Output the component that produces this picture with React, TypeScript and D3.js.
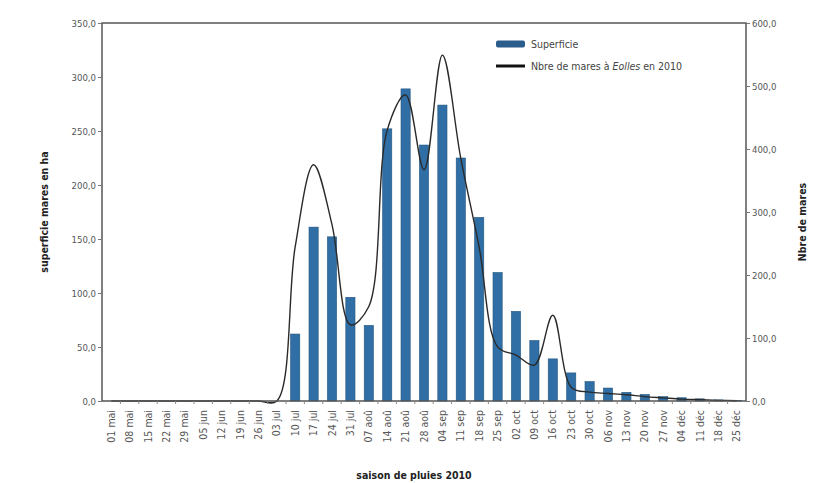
import React, { useRef, useEffect } from "react";
import * as d3 from "d3";

const dates = [
  "01 mai", "08 mai", "15 mai", "22 mai", "29 mai", "05 jun", "12 jun", "19 jun", "26 jun",
  "03 jul", "10 jul", "17 jul", "24 jul", "31 jul", "07 aoû", "14 aoû", "21 aoû", "28 aoû",
  "04 sep", "11 sep", "18 sep", "25 sep", "02 oct", "09 oct", "16 oct", "23 oct", "30 oct",
  "06 nov", "13 nov", "20 nov", "27 nov", "04 déc", "11 déc", "18 déc", "25 déc",
];

// superficie des mares (ha), axe gauche
const superficie = [
  0, 0, 0, 0, 0, 0, 0, 0, 0,
  0, 62, 161, 152, 96, 70, 252, 289, 237,
  274, 225, 170, 119, 83, 56, 39, 26, 18,
  12, 8, 6, 4, 3, 2, 1, 0.5,
];

// nombre de mares, axe droit
const nbMares = [
  0, 0, 0, 0, 0, 0, 0, 0, 0,
  0, 245, 375, 280, 121, 150, 430, 486, 367,
  549, 385, 244, 86, 73, 57, 136, 22, 14,
  12, 10, 7, 5, 3, 2, 1, 0.5,
];

const leftTicks = [0, 50, 100, 150, 200, 250, 300, 350];
const rightTicks = [0, 100, 200, 300, 400, 500, 600];

const fmt = (v: number) => v.toFixed(1).replace(".", ",");

const App = () => {
  const svgRef = useRef<SVGSVGElement>(null);

  useEffect(() => {
    const width = 821;
    const height = 483;
    const margin = { top: 23, right: 75, bottom: 82, left: 102 };
    const w = width - margin.left - margin.right;
    const h = height - margin.top - margin.bottom;

    const svg = d3.select(svgRef.current);
    svg.selectAll("*").remove();
    svg.attr("width", width).attr("height", height);

    const g = svg.append("g").attr("transform", `translate(${margin.left},${margin.top})`);
    const font = "'Liberation Sans Narrow', 'DejaVu Sans Condensed', Arial, sans-serif";

    const x = d3.scaleBand().domain(dates).range([0, w]).paddingInner(0.5).paddingOuter(0.25);
    const yL = d3.scaleLinear().domain([0, 350]).range([h, 0]);
    const yR = d3.scaleLinear().domain([0, 600]).range([h, 0]);

    // bars
    g.selectAll(".bar")
      .data(superficie.map((v, i) => ({ d: dates[i], v })).filter((p) => p.v > 0))
      .enter()
      .append("rect")
      .attr("x", (p) => x(p.d)!)
      .attr("y", (p) => yL(p.v))
      .attr("width", x.bandwidth())
      .attr("height", (p) => h - yL(p.v))
      .attr("fill", "#2f6fa6")
      .attr("stroke", "#24557f")
      .attr("stroke-width", 0.6);

    // line
    const line = d3
      .line<number>()
      .x((_, i) => x(dates[i])! + x.bandwidth() / 2)
      .y((v) => yR(v))
      .curve(d3.curveCatmullRom.alpha(0.5));
    g.append("path")
      .attr("d", line(nbMares))
      .attr("fill", "none")
      .attr("stroke", "#2a2a2a")
      .attr("stroke-width", 1.4);

    // frame
    g.append("rect")
      .attr("width", w)
      .attr("height", h)
      .attr("fill", "none")
      .attr("stroke", "#555")
      .attr("stroke-width", 1.5);

    // left axis
    const la = g.append("g").call(d3.axisLeft(yL).tickValues(leftTicks).tickFormat((v) => fmt(+v)).tickSize(4).tickPadding(2));
    la.select(".domain").remove();
    la.selectAll("text").attr("font-family", font).attr("font-size", 9.5).attr("fill", "#555");
    la.selectAll("line").attr("stroke", "#777");

    // right axis
    const ra = g.append("g").attr("transform", `translate(${w},0)`)
      .call(d3.axisRight(yR).tickValues(rightTicks).tickFormat((v) => fmt(+v)).tickSize(4).tickPadding(2));
    ra.select(".domain").remove();
    ra.selectAll("text").attr("font-family", font).attr("font-size", 9.5).attr("fill", "#555");
    ra.selectAll("line").attr("stroke", "#777");

    // bottom axis
    const ba = g.append("g").attr("transform", `translate(0,${h})`)
      .call(d3.axisBottom(x).tickSize(0).tickPadding(0));
    ba.select(".domain").remove();
    ba.selectAll("text")
      .attr("font-family", font)
      .attr("font-size", 10.5)
      .attr("fill", "#555")
      .attr("text-anchor", "end")
      .attr("dy", "0.35em")
      .attr("transform", "translate(0,9) rotate(-90)");
    g.append("g")
      .selectAll("line")
      .data(dates.slice(1))
      .enter()
      .append("line")
      .attr("x1", (d) => x(d)! - (x.step() - x.bandwidth()) / 2)
      .attr("x2", (d) => x(d)! - (x.step() - x.bandwidth()) / 2)
      .attr("y1", h)
      .attr("y2", h + 3)
      .attr("stroke", "#888");

    // axis titles
    svg.append("text")
      .attr("transform", `translate(48,${margin.top + h / 2}) rotate(-90)`)
      .attr("text-anchor", "middle")
      .attr("font-family", font)
      .attr("font-size", 10.5)
      .attr("font-weight", "bold")
      .attr("fill", "#222")
      .text("superficie mares en ha");
    svg.append("text")
      .attr("transform", `translate(806,${margin.top + h / 2 + 10}) rotate(-90)`)
      .attr("text-anchor", "middle")
      .attr("font-family", font)
      .attr("font-size", 10.5)
      .attr("font-weight", "bold")
      .attr("fill", "#222")
      .text("Nbre de mares");
    svg.append("text")
      .attr("x", 414)
      .attr("y", 479)
      .attr("text-anchor", "middle")
      .attr("font-family", font)
      .attr("font-size", 10.5)
      .attr("font-weight", "bold")
      .attr("fill", "#222")
      .text("saison de pluies 2010");

    // legend
    const lg = svg.append("g").attr("transform", "translate(496,44)");
    lg.append("rect").attr("x", 0).attr("y", -3.5).attr("width", 29).attr("height", 7).attr("rx", 2).attr("fill", "#2b5d8c");
    lg.append("text").attr("x", 35).attr("y", 0).attr("dy", "0.35em")
      .attr("font-family", font).attr("font-size", 10.5).attr("fill", "#444").text("Superficie");
    lg.append("line").attr("x1", 0).attr("x2", 29).attr("y1", 22).attr("y2", 22).attr("stroke", "#111").attr("stroke-width", 3);
    const t2 = lg.append("text").attr("x", 35).attr("y", 22).attr("dy", "0.35em")
      .attr("font-family", font).attr("font-size", 10.5).attr("fill", "#444");
    t2.append("tspan").text("Nbre de mares à ");
    t2.append("tspan").attr("font-style", "italic").text("Eolles");
    t2.append("tspan").text(" en 2010");
  }, []);

  return <svg ref={svgRef} style={{ display: "block", position: "absolute", left: 0, top: 0 }}></svg>;
};

export default App;
